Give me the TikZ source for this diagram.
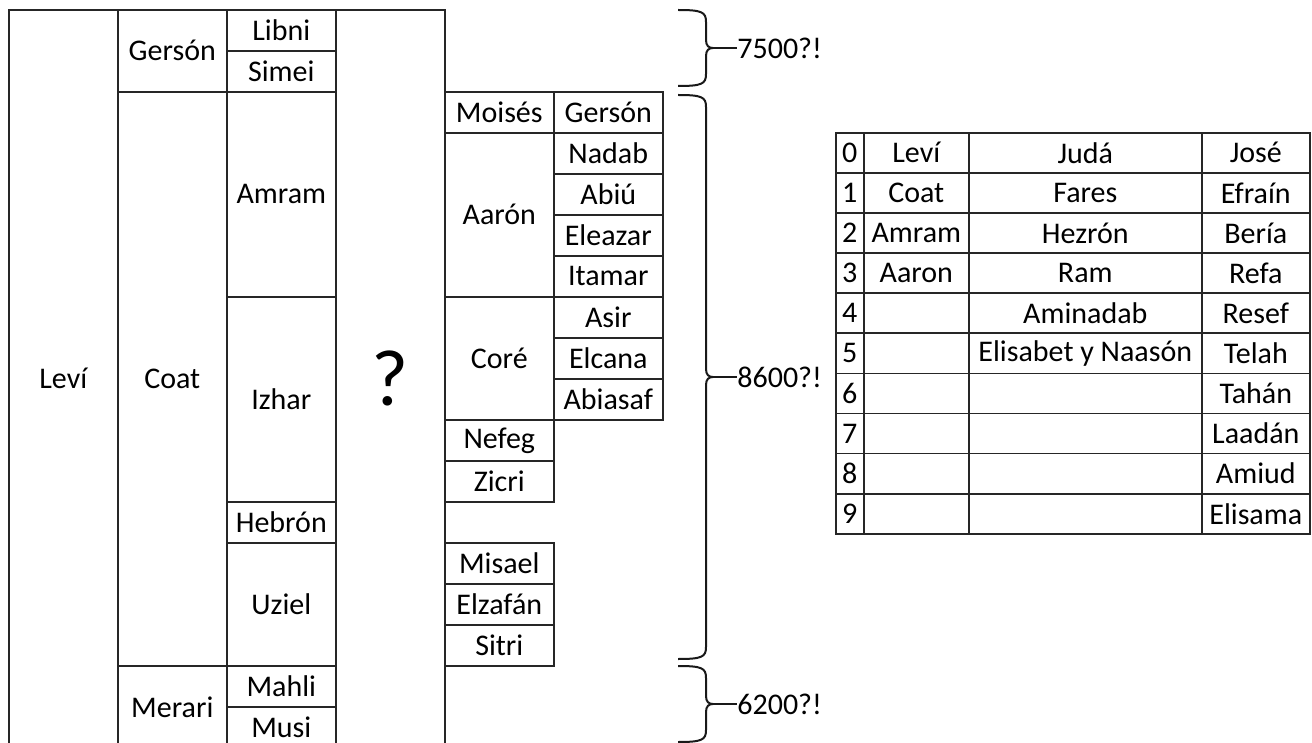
\documentclass[tikz,border=0pt]{standalone}
\usepackage{fontspec}
\setmainfont{Carlito}
\usepackage{tikz}

\begin{document}
\begin{tikzpicture}[x=0.5pt, y=-0.5pt, font=\fontsize{15pt}{18pt}\selectfont,
    every node/.style={inner sep=0pt},
    cell/.style={draw=black!85, line width=0.8pt, rectangle, anchor=north west, minimum width=54.5pt, minimum height=20.5pt},
    tall/.style={minimum height=#1*20.5pt},
    tcell/.style={draw=black!85, line width=0.8pt, rectangle, anchor=north west, minimum height=20.05pt},
    numcol/.style={tcell, minimum width=14pt},
    levcol/.style={tcell, minimum width=52.5pt},
    judcol/.style={tcell, minimum width=116.5pt},
    joscol/.style={tcell, minimum width=54pt},
    llave/.style={draw=black!90, line width=1pt}]

    \useasboundingbox (0,0) rectangle (1312,743);
    \clip (0,0) rectangle (1312,743);

    % linaje de Leví
    \node[cell, tall=18]       (levi)    at (8, 9)     {Leví};
    \node[cell, tall=2]        (gerson)  at (117, 9)   {Gersón};
    \node[cell, tall=14]       (coat)    at (117, 91)  {Coat};
    \node[cell, tall=2]        (merari)  at (117, 665) {Merari};
    \node[cell]                (libni)   at (226, 9)   {Libni};
    \node[cell]                (simei)   at (226, 50)  {Simei};
    \node[cell, tall=5]        (amram)   at (226, 91)  {Amram};
    \node[cell, tall=5]        (izhar)   at (226, 296) {Izhar};
    \node[cell]                (hebron)  at (226, 501) {Hebrón};
    \node[cell, tall=3]        (uziel)   at (226, 542) {Uziel};
    \node[cell]                (mahli)   at (226, 665) {Mahli};
    \node[cell]                (musi)    at (226, 706) {Musi};
    \node[cell, tall=18, font=\fontsize{40pt}{48pt}\selectfont] (incog) at (335, 9) {?};

    \node[cell]                (moises)  at (444, 91)  {Moisés};
    \node[cell, tall=4]        (aaron)   at (444, 132) {Aarón};
    \node[cell, tall=3]        (core)    at (444, 296) {Coré};
    \node[cell]                (nefeg)   at (444, 419) {Nefeg};
    \node[cell]                (zicri)   at (444, 460) {Zicri};
    \node[cell]                (misael)  at (444, 542) {Misael};
    \node[cell]                (elzafan) at (444, 583) {Elzafán};
    \node[cell]                (sitri)   at (444, 624) {Sitri};

    \node[cell]                (gersonb) at (553, 91)  {Gersón};
    \node[cell]                (nadab)   at (553, 132) {Nadab};
    \node[cell]                (abiu)    at (553, 173) {Abiú};
    \node[cell]                (eleazar) at (553, 214) {Eleazar};
    \node[cell]                (itamar)  at (553, 255) {Itamar};
    \node[cell]                (asir)    at (553, 296) {Asir};
    \node[cell]                (elcana)  at (553, 337) {Elcana};
    \node[cell]                (abiasaf) at (553, 378) {Abiasaf};

    % llaves
    \draw[llave] (678, 10) .. controls (702, 10) and (706, 12) .. (706, 22) -- (706, 40)
        .. controls (706, 46) and (709, 48) .. (713, 48)
        .. controls (709, 48) and (706, 50) .. (706, 56) -- (706, 74)
        .. controls (706, 84) and (702, 86) .. (678, 86);
    \draw[llave] (678, 95) .. controls (702, 95) and (706, 97) .. (706, 107) -- (706, 369)
        .. controls (706, 375) and (709, 377) .. (713, 377)
        .. controls (709, 377) and (706, 379) .. (706, 385) -- (706, 647)
        .. controls (706, 657) and (702, 659) .. (678, 659);
    \draw[llave] (678, 666) .. controls (702, 666) and (706, 668) .. (706, 678) -- (706, 696)
        .. controls (706, 702) and (709, 704) .. (713, 704)
        .. controls (709, 704) and (706, 706) .. (706, 712) -- (706, 730)
        .. controls (706, 740) and (702, 742) .. (678, 742);

    \coordinate (p7500) at (713, 48);
    \coordinate (p8600) at (713, 377);
    \coordinate (p6200) at (713, 704);
    \node[anchor=west] (t7500) at (737, 48)  {7500?!};
    \node[anchor=west] (t8600) at (737, 377) {8600?!};
    \node[anchor=west] (t6200) at (737, 704) {6200?!};
    \draw[llave] (p7500) -- (t7500.west);
    \draw[llave] (p8600) -- (t8600.west);
    \draw[llave] (p6200) -- (t6200.west);

    % generaciones
    \node[numcol] (g0) at (835, 132)   {0};
    \node[levcol] (l0) at (863, 132)   {Leví};
    \node[judcol] (j0) at (968, 132)   {Judá};
    \node[joscol] (s0) at (1201, 132)  {José};
    \node[numcol] (g1) at (835, 172.1) {1};
    \node[levcol] (l1) at (863, 172.1) {Coat};
    \node[judcol] (j1) at (968, 172.1) {Fares};
    \node[joscol] (s1) at (1201, 172.1) {Efraín};
    \node[numcol] (g2) at (835, 212.2) {2};
    \node[levcol] (l2) at (863, 212.2) {Amram};
    \node[judcol] (j2) at (968, 212.2) {Hezrón};
    \node[joscol] (s2) at (1201, 212.2) {Bería};
    \node[numcol] (g3) at (835, 252.3) {3};
    \node[levcol] (l3) at (863, 252.3) {Aaron};
    \node[judcol] (j3) at (968, 252.3) {Ram};
    \node[joscol] (s3) at (1201, 252.3) {Refa};
    \node[numcol] (g4) at (835, 292.4) {4};
    \node[levcol] (l4) at (863, 292.4) {};
    \node[judcol] (j4) at (968, 292.4) {Aminadab};
    \node[joscol] (s4) at (1201, 292.4) {Resef};
    \node[numcol] (g5) at (835, 332.5) {5};
    \node[levcol] (l5) at (863, 332.5) {};
    \node[judcol] (j5) at (968, 332.5) {Elisabet y Naasón};
    \node[joscol] (s5) at (1201, 332.5) {Telah};
    \node[numcol] (g6) at (835, 372.6) {6};
    \node[levcol] (l6) at (863, 372.6) {};
    \node[judcol] (j6) at (968, 372.6) {};
    \node[joscol] (s6) at (1201, 372.6) {Tahán};
    \node[numcol] (g7) at (835, 412.7) {7};
    \node[levcol] (l7) at (863, 412.7) {};
    \node[judcol] (j7) at (968, 412.7) {};
    \node[joscol] (s7) at (1201, 412.7) {Laadán};
    \node[numcol] (g8) at (835, 452.8) {8};
    \node[levcol] (l8) at (863, 452.8) {};
    \node[judcol] (j8) at (968, 452.8) {};
    \node[joscol] (s8) at (1201, 452.8) {Amiud};
    \node[numcol] (g9) at (835, 492.9) {9};
    \node[levcol] (l9) at (863, 492.9) {};
    \node[judcol] (j9) at (968, 492.9) {};
    \node[joscol] (s9) at (1201, 492.9) {Elisama};
  \end{tikzpicture}
\end{document}
